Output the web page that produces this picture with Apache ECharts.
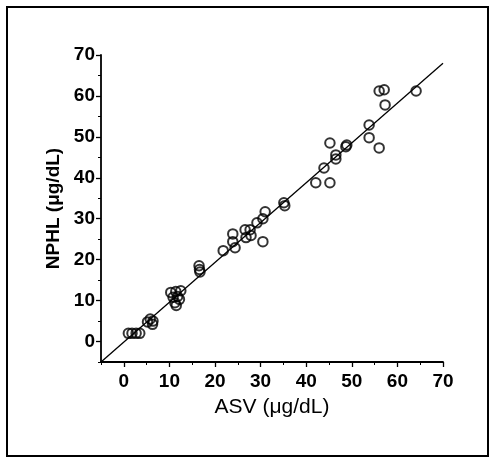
<!DOCTYPE html>
<html>
<head>
<meta charset="utf-8">
<script src="https://cdn.jsdelivr.net/npm/echarts@6/dist/echarts.min.js"></script>
<style>
  html, body { margin: 0; padding: 0; background: #fff; }
  #chart { width: 492px; height: 468px; }
</style>
</head>
<body>
<div id="chart"></div>
<script>
// ASV vs NPHL readings (ug/dL)
var asv = [1, 1.8, 2.7, 3.5, 5.2, 5.8, 6.4, 6.3, 10.3, 11.4, 12.5, 10.8, 11.8, 11.2, 11.5, 12.2,
    16.5, 16.6, 16.7, 21.8, 23.9, 23.9, 24.4, 26.6, 26.8, 27.7, 27.9, 29.2, 30.5, 31, 30.5,
    35.1, 35.3, 42.1, 45.2, 43.9, 45.2, 46.5, 46.5, 48.7, 48.9, 53.8, 53.8, 56, 56, 57.1, 57.3, 64.1];
var nphl = [2, 2, 2, 2, 4.8, 5.5, 5, 4.2, 12, 12.2, 12.4, 10.8, 11, 9.5, 8.8, 10.3,
    18.5, 17.6, 17, 22.2, 26.3, 24.4, 22.9, 27.3, 25.4, 27.3, 25.9, 29, 30, 31.7, 24.4,
    33.9, 33.2, 38.8, 38.8, 42.4, 48.5, 45.6, 44.6, 47.6, 48, 52.9, 49.8, 47.3, 61.2, 61.5, 57.8, 61.2];
// fitted line ends
var fitX = [-5, 70];
var fitY = [-5, 68];
var ticks = [0, 10, 20, 30, 40, 50, 60, 70];

var points = asv.map(function (v, i) { return [v, nphl[i]]; });
var fitLine = fitX.map(function (v, i) { return [v, fitY[i]]; });

var chart = echarts.init(document.getElementById('chart'));

var labelFont = {
    fontFamily: 'Liberation Sans, Arial, sans-serif',
    fontWeight: 'bold',
    fontSize: 19,
    color: '#000'
};

function mainAxis(isX) {
    return {
        type: 'value',
        min: -5,
        max: 70,
        name: isX ? 'ASV (μg/dL)' : 'NPHL (μg/dL)',
        nameLocation: 'middle',
        nameGap: isX ? 35 : 32,
        nameTextStyle: {
            fontFamily: 'Liberation Sans, Arial, sans-serif',
            fontWeight: isX ? 'normal' : 'bold',
            fontSize: isX ? 21 : 19,
            color: '#000'
        },
        axisLine: { show: true, onZero: false, lineStyle: { color: '#000', width: 1.8 } },
        axisTick: { show: true, customValues: ticks, length: 5, lineStyle: { color: '#000', width: 1.3 } },
        axisLabel: Object.assign({ customValues: ticks, margin: isX ? 10 : 6 }, labelFont),
        splitLine: { show: false }
    };
}

function minorAxis() {
    return {
        type: 'value',
        min: -5,
        max: 70,
        interval: 5,
        axisLine: { show: false, onZero: false },
        axisTick: { show: true, length: 3, lineStyle: { color: '#000', width: 1 } },
        axisLabel: { show: false },
        splitLine: { show: false }
    };
}

var xMain = mainAxis(true);
xMain.position = 'bottom';
var xMinor = minorAxis();
xMinor.position = 'bottom';
var yMain = mainAxis(false);
yMain.position = 'left';
var yMinor = minorAxis();
yMinor.position = 'left';

chart.setOption({
    animation: false,
    backgroundColor: '#fff',
    grid: { left: 101, right: 49, top: 55, bottom: 106 },
    graphic: [{
        type: 'rect',
        shape: { x: 7, y: 7, width: 481, height: 449 },
        style: { fill: 'none', stroke: '#000', lineWidth: 2 },
        silent: true
    }],
    xAxis: [xMain, xMinor],
    yAxis: [yMain, yMinor],
    series: [{
        type: 'line',
        data: fitLine,
        showSymbol: false,
        lineStyle: { color: '#000', width: 1.3 },
        z: 2
    }, {
        type: 'scatter',
        data: points,
        symbol: 'circle',
        symbolSize: 9.5,
        itemStyle: { color: 'rgba(255,255,255,0)', borderColor: '#000', borderWidth: 2 },
        z: 3
    }]
});
</script>
</body>
</html>
